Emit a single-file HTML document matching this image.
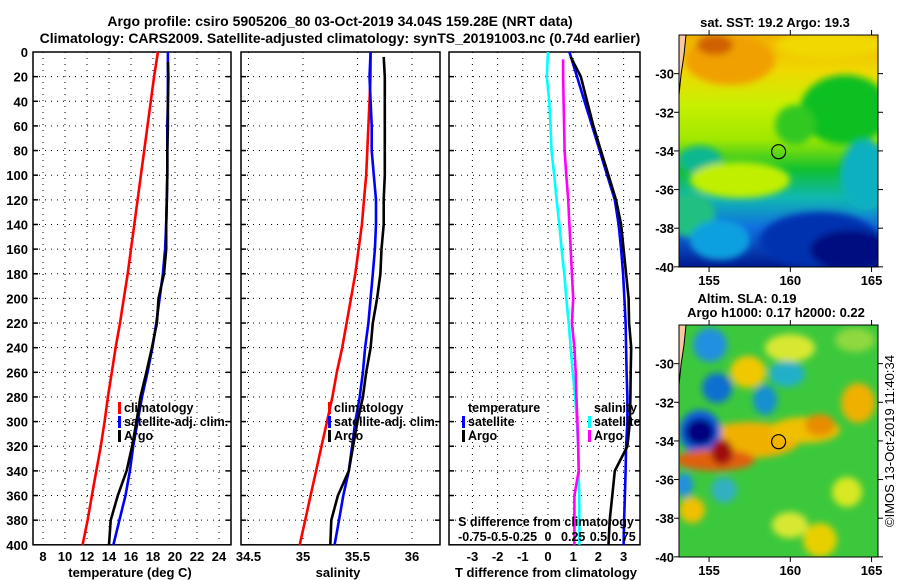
<!DOCTYPE html>
<html><head><meta charset="utf-8"><style>
html,body{margin:0;padding:0;background:#fff;}
svg{display:block;font-family:"Liberation Sans",sans-serif;font-weight:bold;}
</style></head><body>
<svg id="s" width="900" height="580" xmlns="http://www.w3.org/2000/svg">
<defs>
<linearGradient id="sstg" x1="0" y1="0" x2="0" y2="1">
<stop offset="0" stop-color="#f0b000"/><stop offset="0.15" stop-color="#f0d800"/><stop offset="0.3" stop-color="#c8f000"/><stop offset="0.45" stop-color="#a0e800"/><stop offset="0.58" stop-color="#10c030"/><stop offset="0.7" stop-color="#10b8b0"/><stop offset="0.83" stop-color="#1070e0"/><stop offset="1" stop-color="#001890"/>
</linearGradient>
<filter id="bl" x="-50%" y="-50%" width="200%" height="200%"><feGaussianBlur stdDeviation="3.5"/></filter>
<clipPath id="c1"><rect x="679" y="35" width="199" height="232"/></clipPath>
<clipPath id="c2"><rect x="679" y="325" width="199" height="232"/></clipPath>
</defs>
<text x="340" y="26" text-anchor="middle" font-size="14">Argo profile: csiro 5905206_80 03-Oct-2019 34.04S 159.28E (NRT data)</text>
<text x="340" y="43" text-anchor="middle" font-size="14">Climatology: CARS2009. Satellite-adjusted climatology: synTS_20191003.nc (0.74d earlier)</text>
<g id="maps"></g>
<g id="plots"></g>
</svg>
<script>
const depths=[0,20,40,60,80,100,120,140,160,180,200,220,240,260,280,300,320,340,360,380,400];
const tempClim=[18.45,18.1,17.8,17.5,17.2,16.9,16.6,16.3,16.0,15.7,15.35,15.0,14.6,14.25,13.9,13.6,13.25,12.85,12.45,12.05,11.6];
const tempSat=[19.35,19.35,19.35,19.3,19.3,19.3,19.25,19.2,19.1,18.9,18.6,18.3,17.95,17.5,17.0,16.6,16.2,15.9,15.5,14.95,14.4];
const tempArgo=[19.35,19.4,19.35,19.35,19.3,19.3,19.25,19.2,19.2,19.0,18.5,18.35,17.9,17.4,16.85,16.5,16.1,15.6,14.8,14.15,14.0];
const salClim=[35.62,35.62,35.61,35.6,35.59,35.58,35.56,35.54,35.51,35.48,35.44,35.4,35.36,35.31,35.27,35.22,35.17,35.12,35.07,35.02,34.97];
const salSat=[35.62,35.61,35.62,35.63,35.63,35.65,35.67,35.67,35.66,35.64,35.62,35.6,35.57,35.55,35.52,35.48,35.45,35.42,35.37,35.33,35.29];
const salArgo=[35.74,35.75,35.75,35.75,35.75,35.75,35.74,35.74,35.72,35.71,35.68,35.64,35.62,35.58,35.55,35.5,35.46,35.42,35.32,35.26,35.25];
const dTsat=[0.85,1.15,1.45,1.75,2.05,2.35,2.65,2.8,2.9,2.98,3.03,3.08,3.1,3.12,3.15,3.15,3.1,3.08,3.05,3.02,3.0];
const dTargo=[0.9,1.3,1.55,1.8,2.1,2.4,2.7,2.9,3.0,3.1,3.2,3.22,3.3,3.28,3.27,3.25,3.15,2.65,2.55,2.45,2.4];
const dSsat=[0,-0.012,0.012,0.025,0.035,0.062,0.085,0.112,0.135,0.162,0.182,0.205,0.225,0.245,0.27,0.287,0.3,0.305,0.31,0.312,0.312];
const dSargo=[0.15,0.15,0.155,0.16,0.165,0.182,0.2,0.212,0.225,0.237,0.25,0.237,0.262,0.275,0.282,0.292,0.3,0.305,0.262,0.262,0.262];
const tTicks=[8,10,12,14,16,18,20,22,24];
const sTicks=[34.5,35,35.5,36];
const dTTicks=[-3,-2,-1,0,1,2,3];
const dSTicks=["-0.75","-0.5","-0.25","0","0.25","0.5","0.75"];
const depthTicks=[0,20,40,60,80,100,120,140,160,180,200,220,240,260,280,300,320,340,360,380,400];

const NS='http://www.w3.org/2000/svg';
const plots=document.getElementById('plots');
function mk(tag,attrs,parent){const e=document.createElementNS(NS,tag);for(const k in attrs)e.setAttribute(k,attrs[k]);(parent||plots).appendChild(e);return e;}
function txt(x,y,s,size,anchor,parent){const t=mk('text',{x:x,y:y,'font-size':size,'text-anchor':anchor||'middle'},parent);t.textContent=s;return t;}
const Y=d=>52+d*1.232;
const xT=v=>43+(v-8)*11;
const xS=v=>303+(v-35)*109;
const xD=v=>548+v*25.2;
const xDS=v=>548+v*4*25.2;

function panel(x0,x1,name,vx){
  const g=mk('g',{});
  
  
  depthTicks.forEach(d=>{if(d>0&&d<400){const l=mk('line',{x1:x0,x2:x1,y1:Y(d),y2:Y(d),stroke:'#000','stroke-width':1,'stroke-dasharray':'1,5'},g);
    mk('line',{x1:x0,x2:x0+5,y1:Y(d),y2:Y(d),stroke:'#000','stroke-width':1.5},g);mk('line',{x1:x1-5,x2:x1,y1:Y(d),y2:Y(d),stroke:'#000','stroke-width':1.5},g);}});
  vx.forEach(x=>{const l=mk('line',{x1:x,x2:x,y1:Y(0),y2:Y(400),stroke:'#000','stroke-width':1,'stroke-dasharray':'1,5'},g);});
  const r=mk('rect',{x:x0,y:Y(0),width:x1-x0,height:Y(400)-Y(0),fill:'none',stroke:'#000','stroke-width':1.5},g);
  
  return g;
}
function series(g,vals,xf,color,name,start){
  const pts=vals.map((v,i)=>xf(v).toFixed(1)+','+Y(i===0&&start?start:depths[i]).toFixed(1)).join(' ');
  const p=mk('polyline',{points:pts,fill:'none',stroke:color,'stroke-width':2.6},g);
  
  
}
function legend(g,x,y,items){
  items.forEach((it,i)=>{
    if(it[1]){const b=mk('rect',{x:x,y:y+i*14-10,width:3,height:12,fill:it[1]},g);}
    const t=txt(x+(it[1]?6:0),y+i*14,it[0],12.5,'start',g);
  });
}

depthTicks.forEach(d=>{const t=txt(28,Y(d)+5,String(d),13,'end');});

const g1=panel(33,231,'temperature-panel',tTicks.map(xT));
series(g1,tempClim,xT,'#f00','temp-climatology-line');
series(g1,tempSat,xT,'#00f','temp-satellite-line');
series(g1,tempArgo,xT,'#000','temp-argo-line',8);
tTicks.forEach(v=>{const t=txt(xT(v),561,String(v),13);});
let t1=txt(130,577,'temperature (deg C)',13);
legend(g1,118,412,[['climatology','#f00'],['satellite-adj. clim.','#00f'],['Argo','#000']]);

const g2=panel(241,440,'salinity-panel',sTicks.map(xS));
series(g2,salClim,xS,'#f00','sal-climatology-line');
series(g2,salSat,xS,'#00f','sal-satellite-line');
series(g2,salArgo,xS,'#000','sal-argo-line',4);
sTicks.forEach(v=>{const t=txt(xS(v),561,String(v),13);});
let t2=txt(338,577,'salinity',13);
legend(g2,328,412,[['climatology','#f00'],['satellite-adj. clim.','#00f'],['Argo','#000']]);

const g3=panel(449,640,'difference-panel',dTTicks.map(xD));
series(g3,dSsat,xDS,'#0ff','sdiff-satellite-line');
series(g3,dSargo,xDS,'#f0f','sdiff-argo-line',6);
series(g3,dTsat,xD,'#00f','tdiff-satellite-line');
series(g3,dTargo,xD,'#000','tdiff-argo-line',4);
dTTicks.forEach(v=>{const t=txt(xD(v),561,String(v),13);});
dSTicks.forEach((s,i)=>{const t=txt(xD(dTTicks[i]),541,s,12.5);});
let t3=txt(546,526,'S difference from climatology',12.5);
let t4=txt(546,577,'T difference from climatology',13);
legend(g3,468,412,[['temperature',null]]);
legend(g3,462,426,[['satellite','#00f'],['Argo','#000']]);
legend(g3,594,412,[['salinity',null]]);
legend(g3,588,426,[['satellite','#0ff'],['Argo','#f0f']]);

const maps=document.getElementById('maps');
const latTicks=[-30,-32,-34,-36,-38,-40];
const lonTicks=[155,160,165];
function mapFrame(y0,name){
  const LY=lat=>y0+(-28-lat)*19.32;
  const LX=lon=>679+(lon-153.15)*16.25;
  latTicks.forEach(l=>{const t=txt(674,LY(l)+5,String(l),13,'end',maps);
    mk('line',{x1:674,x2:679,y1:LY(l),y2:LY(l),stroke:'#000'},maps);mk('line',{x1:878,x2:883,y1:LY(l),y2:LY(l),stroke:'#000'},maps);});
  lonTicks.forEach(l=>{const t=txt(LX(l),y0+250,String(l),13,'middle',maps);
    mk('line',{x1:LX(l),x2:LX(l),y1:y0+232,y2:y0+237,stroke:'#000'},maps);mk('line',{x1:LX(l),x2:LX(l),y1:y0-5,y2:y0,stroke:'#000'},maps);});
  mk('path',{d:`M679 ${y0} L686 ${y0} L684 ${y0+20} L681 ${y0+40} L679 ${y0+60} Z`,fill:'#f8c8a0',stroke:'#000'},maps);
  const c=mk('circle',{cx:LX(159.28),cy:LY(-34.04),r:7,fill:'none',stroke:'#000','stroke-width':1.2},maps);
  
  mk('rect',{x:679,y:y0,width:199,height:232,fill:'none',stroke:'#000','stroke-width':1},maps);
}
const m1=mk('g',{'clip-path':'url(#c1)'},maps);

mk('rect',{x:679,y:35,width:199,height:232,fill:'url(#sstg)'},m1);
const b1=mk('g',{filter:'url(#bl)'},m1);
[[730,60,45,25,'#f0a000'],[715,45,18,10,'#d06000'],[830,45,55,14,'#f0d800'],[845,110,45,35,'#10c020'],[795,125,20,20,'#30c820'],[700,160,22,14,'#10b890'],[740,180,50,18,'#c0f000'],[865,175,25,35,'#10b0c0'],[820,240,60,28,'#0030b0'],[850,250,40,20,'#000c80'],[690,215,25,22,'#20c080'],[720,240,30,20,'#10a0e0']].forEach(b=>mk('ellipse',{cx:b[0],cy:b[1],rx:b[2],ry:b[3],fill:b[4]},b1));
const m2=mk('g',{'clip-path':'url(#c2)'},maps);

mk('rect',{x:679,y:325,width:199,height:232,fill:'#3cc83c'},m2);
const b2=mk('g',{filter:'url(#bl)'},m2);
[[790,348,25,14,'#d8e830'],[748,372,18,16,'#f0c800'],[750,440,50,18,'#f0b000'],[805,430,35,13,'#f0c000'],[820,425,15,11,'#e88c00'],[858,403,17,20,'#f0b000'],[710,345,17,17,'#2090e0'],[717,388,15,15,'#1070d0'],[787,374,18,13,'#20b0c8'],[765,400,12,15,'#1890d0'],[700,432,21,22,'#1060e0'],[700,432,15,14,'#000080'],[715,460,40,11,'#e06010'],[722,452,11,13,'#a01010'],[724,490,13,13,'#30b0c0'],[684,485,9,12,'#2090e0'],[692,510,13,13,'#f0c000'],[820,540,17,17,'#e8d000'],[847,492,15,15,'#d8e820'],[790,525,18,13,'#d8e830'],[855,340,20,12,'#90d840']].forEach(b=>mk('ellipse',{cx:b[0],cy:b[1],rx:b[2],ry:b[3],fill:b[4]},b2));
mapFrame(35,'sst-map');
mapFrame(325,'sla-map');
let mt=txt(775,27,'sat. SST: 19.2 Argo: 19.3',13,'middle',maps);
let mt2=txt(747,303,'Altim. SLA: 0.19',13,'middle',maps);
let mt3=txt(776,317,'Argo h1000: 0.17 h2000: 0.22',13,'middle',maps);
let cp=txt(0,0,'©IMOS 13-Oct-2019 11:40:34',13,'middle',maps);cp.setAttribute('transform','translate(894,441) rotate(-90)');cp.setAttribute('font-weight','normal');

</script>
</body></html>
